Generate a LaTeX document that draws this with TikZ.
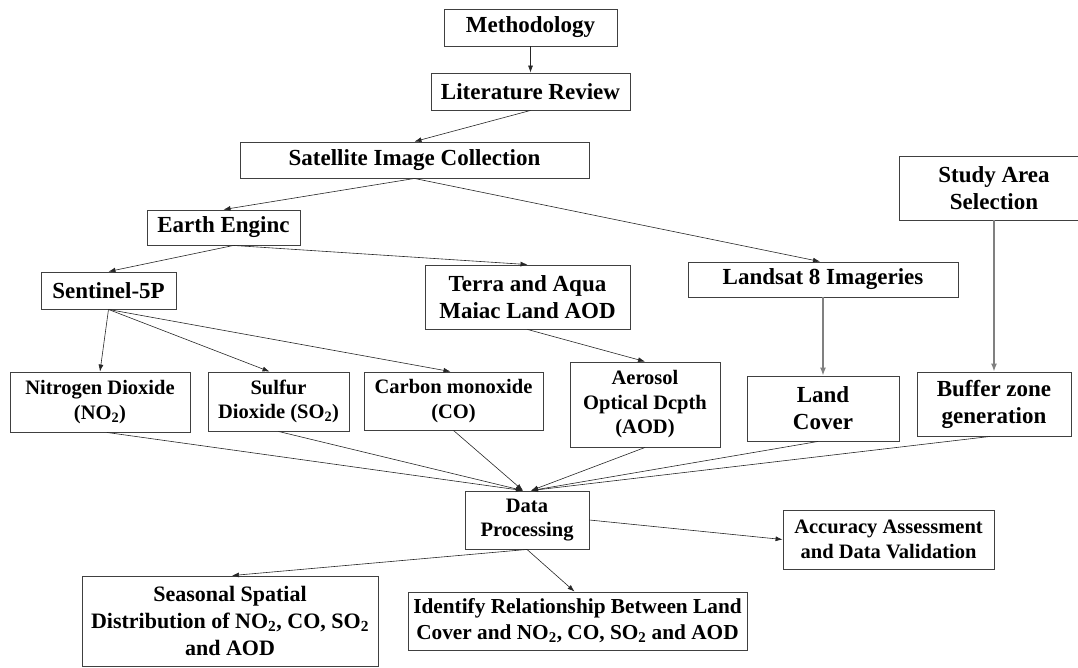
\documentclass[tikz,border=0pt]{standalone}
\usepackage{fontspec}
\setmainfont{Liberation Serif}
\usetikzlibrary{arrows.meta}
\tikzset{
    box/.style={draw=black!75, line width=0.9pt, align=center, inner sep=0pt,
        font=\bfseries\fontsize{23}{27}\selectfont},
    boxs/.style={box, font=\bfseries\fontsize{20.5}{24.5}\selectfont},
    flow/.style={-{Latex[length=7pt,width=5pt]}, line width=0.6pt, black!85},
    flowg/.style={-{Latex[length=8pt,width=6pt]}, line width=1.4pt, black!50}
}

\begin{document}
\begin{tikzpicture}[x=1pt, y=1pt]
    \useasboundingbox (0,0) rectangle (1078,-667);
    % top chain
    \node[box, minimum width=173, minimum height=37] (meth) at (530.5,-27.5) {Methodology};
    \node[box, minimum width=199, minimum height=37] (lit) at (530.5,-91.5) {Literature Review};
    \node[box, minimum width=349, minimum height=36] (sat) at (414.5,-160) {Satellite Image Collection};
    \node[box, minimum width=153, minimum height=35] (earth) at (223.5,-227.5) {Earth Enginc};
    \node[box, minimum width=135, minimum height=37] (sent) at (108.5,-290.5) {Sentinel-5P};
    \node[box, minimum width=205, minimum height=64] (terra) at (527.5,-297) {Terra and Aqua\\Maiac Land AOD};
    \node[box, minimum width=270, minimum height=35] (land8) at (823,-279.5) {Landsat 8 Imageries};
    \node[box, minimum width=190, minimum height=64] (study) at (994,-188) {Study Area\\Selection};
    % second row
    \node[boxs, minimum width=180, minimum height=60] (no2) at (100,-402) {Nitrogen Dioxide\\(NO\textsubscript{2})};
    \node[boxs, minimum width=141, minimum height=59] (so2) at (278.5,-401.5) {Sulfur\\Dioxide (SO\textsubscript{2})};
    \node[boxs, minimum width=179, minimum height=58] (co) at (453.5,-401) {Carbon monoxide\\(CO)};
    \node[boxs, minimum width=150, minimum height=85] (aod) at (645,-404.5) {Aerosol\\Optical Dcpth\\(AOD)};
    \node[box, minimum width=152, minimum height=65] (lc) at (823,-408.5) {Land\\Cover};
    \node[box, minimum width=154, minimum height=64] (buf) at (994,-404) {Buffer zone\\generation};
    % processing and results
    \node[boxs, minimum width=124, minimum height=58] (dp) at (527,-520) {Data\\Processing};
    \node[boxs, minimum width=211, minimum height=59] (acc) at (888.5,-539.5) {Accuracy Assessment\\and Data Validation};
    \node[box, minimum width=296, minimum height=90, font=\bfseries\fontsize{22}{27}\selectfont] (seas) at (230,-621) {Seasonal Spatial\\Distribution of NO\textsubscript{2}, CO, SO\textsubscript{2}\\and AOD};
    \node[box, minimum width=339, minimum height=58, font=\bfseries\fontsize{21.3}{26}\selectfont] (ident) at (577.5,-621) {Identify Relationship Between Land\\Cover and NO\textsubscript{2}, CO, SO\textsubscript{2} and AOD};

    \draw[flow] (meth) -- (lit);
    \draw[flow] (lit.south) -- (sat.north);
    \draw[flow] (sat.south) -- (earth.north);
    \draw[flow] (sat.south) -- ([xshift=-3pt]land8.north);
    \draw[flow] ([xshift=10pt]earth.south) -- (sent.north);
    \draw[flow] ([xshift=10pt]earth.south) -- (terra.north);
    \draw[flow] (sent.south) -- (no2.north);
    \draw[flow] (sent.south) -- ([xshift=-9pt]so2.north);
    \draw[flow] (sent.south) -- ([xshift=-3pt]co.north);
    \draw[flow] (terra.south) -- (aod.north);
    \draw[flowg] (land8) -- (lc);
    \draw[flowg] (study) -- (buf);
    \draw[flow] ([xshift=7pt]no2.south) -- ([xshift=-4pt]dp.north);
    \draw[flow] (so2.south) -- ([xshift=-4pt]dp.north);
    \draw[flow] (co.south) -- ([xshift=-4pt]dp.north);
    \draw[flow] (aod.south) -- ([xshift=4pt]dp.north);
    \draw[flow] ([xshift=-5pt]lc.south) -- ([xshift=4pt]dp.north);
    \draw[flow] ([xshift=-4pt]buf.south) -- ([xshift=4pt]dp.north);
    \draw[flow] (dp.east) -- (acc.west);
    \draw[flow] (dp.south) -- ([xshift=2pt]seas.north);
    \draw[flow] (dp.south) -- ([xshift=-3pt]ident.north);
\end{tikzpicture}
\end{document}
